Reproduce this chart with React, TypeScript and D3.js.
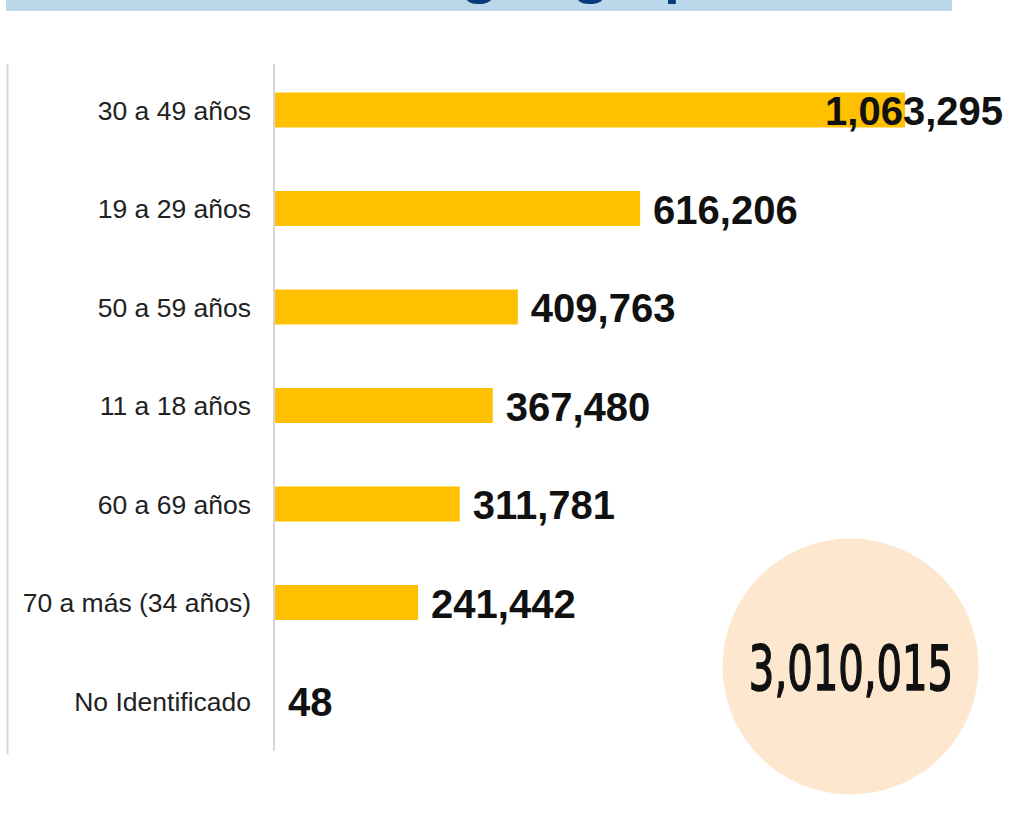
import React from "react";
import * as d3 from "d3";

const categories = [
  "30 a 49 años",
  "19 a 29 años",
  "50 a 59 años",
  "11 a 18 años",
  "60 a 69 años",
  "70 a más (34 años)",
  "No Identificado",
];
const values = [1063295, 616206, 409763, 367480, 311781, 241442, 48];
const totalLabel = "3,010,015";
const titleText = "Atendidos según grupo de edad";

const W = 1009;
const H = 815;
const valueFont = "bold 40px 'Liberation Sans', Arial, sans-serif";

function measure(text: string, font: string): number {
  if (typeof document === "undefined") return text.length * 22;
  const c = document.createElement("canvas");
  const ctx = c.getContext("2d");
  if (!ctx) return text.length * 22;
  ctx.font = font;
  return ctx.measureText(text).width;
}

export default function App() {
  const x = d3.scaleLinear().domain([0, 1063295]).range([275, 905]);
  const y = d3
    .scaleBand<string>()
    .domain(categories)
    .range([60.75, 750.25])
    .paddingInner(0.645)
    .paddingOuter(0.3225);
  const fmt = d3.format(",");
  const bw = y.bandwidth();

  return (
    <div style={{ position: "absolute", left: 0, top: 0, width: W, height: H, background: "#fff" }}>
      <svg width={W} height={H} style={{ display: "block" }}>
        <defs>
          <clipPath id="bannerClip">
            <rect x={6} y={0} width={946} height={11} />
          </clipPath>
        </defs>
        <rect x={6} y={0} width={946} height={11} fill="#BBD8EA" />
        <g clipPath="url(#bannerClip)">
          <text
            x={540}
            y={-9}
            textAnchor="middle"
            fontFamily="'Open Sans', sans-serif"
            fontWeight={700}
            fontSize={52}
            fill="#0B3A7A"
          >
            {titleText}
          </text>
        </g>
        <line x1={7.5} x2={7.5} y1={64} y2={754} stroke="#d6d6d6" strokeWidth={2} />
        {categories.map((c, i) => {
          const v = values[i];
          const cy = (y(c) as number) + bw / 2;
          const label = fmt(v);
          const w = measure(label, valueFont);
          let vx = x(v) + 13;
          if (vx + w > 1003) vx = 1003 - w;
          return (
            <g key={c}>
              <rect x={x(0)} y={y(c)} width={Math.max(0, x(v) - x(0))} height={bw} fill="#FFC000" />
              <text
                x={251}
                y={cy + 9.5}
                textAnchor="end"
                fontFamily="'Liberation Sans', Arial, sans-serif"
                fontSize={26.5}
                fill="#222"
              >
                {c}
              </text>
              <text
                x={vx}
                y={cy + 15}
                fontFamily="'Liberation Sans', Arial, sans-serif"
                fontWeight={700}
                fontSize={40}
                fill="#111"
              >
                {label}
              </text>
            </g>
          );
        })}
        <line x1={274} x2={274} y1={64} y2={751} stroke="#d6d6d6" strokeWidth={2} />
        <circle cx={850.5} cy={666.5} r={128} fill="#FDE8CF" />
        <g transform="translate(851,690) scale(0.72,1)">
          <text
            x={0}
            y={0}
            textAnchor="middle"
            fontFamily="'DejaVu Sans Condensed', 'DejaVu Sans', sans-serif"
            fontWeight={400}
            fontSize={62}
            fill="#111"
            stroke="#111"
            strokeWidth={1.5}
          >
            {totalLabel}
          </text>
        </g>
      </svg>
    </div>
  );
}
